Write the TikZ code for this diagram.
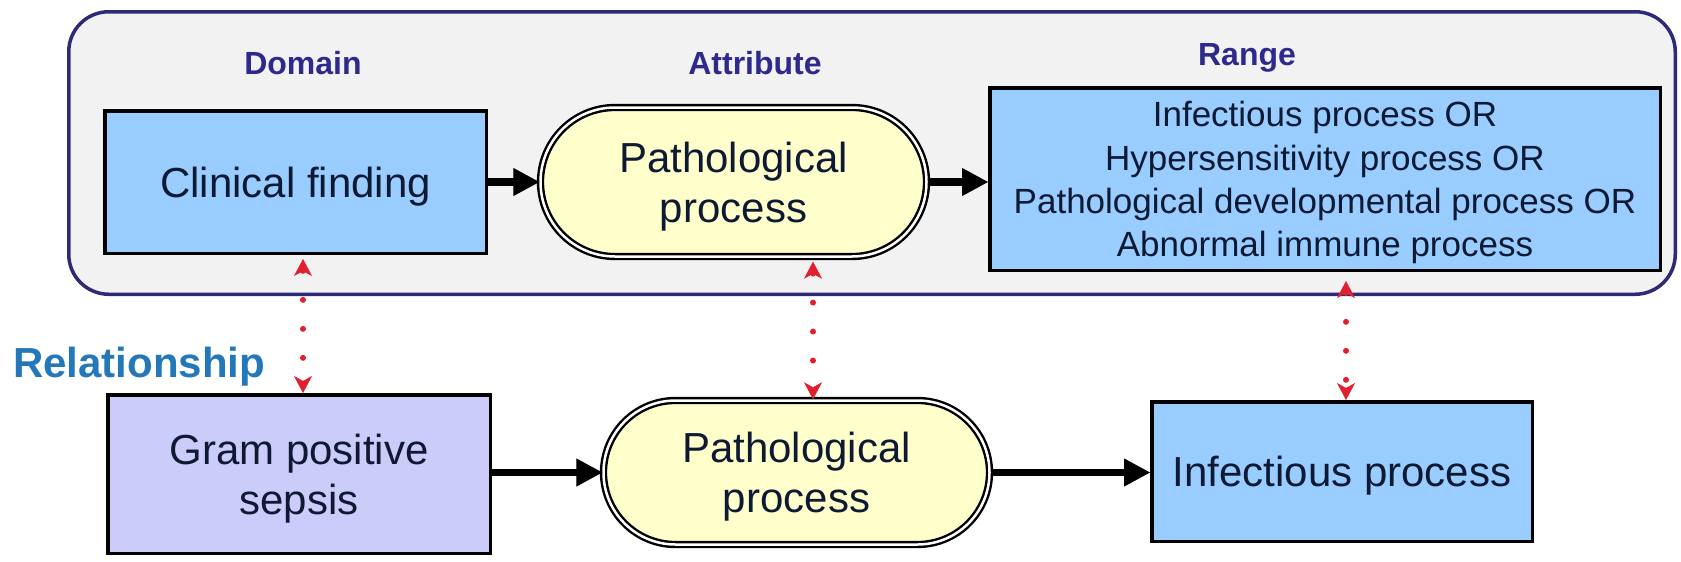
\documentclass[tikz,border=0pt]{standalone}
\usepackage{fontspec}
\setmainfont{Liberation Sans}
\usetikzlibrary{arrows.meta,shapes.misc}
\definecolor{panelfill}{HTML}{F2F2F3}
\definecolor{panelline}{HTML}{2E2A78}
\definecolor{bluebox}{HTML}{99CCFF}
\definecolor{lavbox}{HTML}{CCCCFA}
\definecolor{yellowbox}{HTML}{FFFFCC}
\definecolor{hdrblue}{HTML}{2E2A8C}
\definecolor{relblue}{HTML}{2477B8}
\definecolor{linkred}{HTML}{E0202E}
\definecolor{boxtext}{HTML}{0E1A33}
\begin{document}
\begin{tikzpicture}[x=1pt,y=-1pt,
  panelbox/.style={draw=panelline, line width=3.5pt, fill=panelfill, rounded corners=40pt, inner sep=0pt},
  box/.style={draw=black, line width=3.5pt, inner sep=0pt, align=center, text=boxtext, text depth=0pt, font=\fontsize{42}{50}\selectfont},
  capsule/.style={rounded rectangle, draw=black, line width=2.4pt, double=white, double distance=2.5pt, fill=yellowbox, inner sep=0pt, align=center, text=boxtext, text depth=0pt, font=\fontsize{42}{50}\selectfont, minimum width=386pt},
  hdr/.style={anchor=base, text=hdrblue, inner sep=0pt, font=\fontsize{32}{38}\selectfont\bfseries},
  flow/.style={line width=7.5pt, -{Triangle[length=26pt,width=28pt,line width=1pt]}},
  link/.style={draw=linkred, line width=6pt, dash pattern=on 0pt off 29pt, line cap=round, shorten <=4pt, {Stealth[length=17pt,width=18pt,inset=5pt,line width=0.5pt]}-{Stealth[length=17pt,width=18pt,inset=5pt,line width=0.5pt]}}
]
\fill[white] (0,0) rectangle (1681,562);
\useasboundingbox (0,0) rectangle (1681,562);

\node[panelbox, minimum width=1606.5pt, minimum height=282.5pt] (panel) at (872,153) {};

\node[hdr] (dom) at (303,74) {Domain};
\node[hdr] (att) at (755,74) {Attribute};
\node[hdr] (rngl) at (1247,65) {Range};

\node[box, fill=bluebox, minimum width=381.5pt, minimum height=142.5pt] (clin) at (295.5,182) {Clinical finding};
\node[capsule, minimum height=149pt] (ptop) at (733.5,182) {Pathological\\process};
\node[box, fill=bluebox, minimum width=670.5pt, minimum height=182.5pt, font=\fontsize{35}{43.3}\selectfont] (rng) at (1325,179) {Infectious process OR\\Hypersensitivity process OR\\Pathological developmental process OR\\Abnormal immune process};

\node[anchor=base west, inner sep=0pt, text=relblue, font=\fontsize{42}{50}\selectfont\bfseries] (rel) at (13,377) {Relationship};

\node[box, fill=lavbox, minimum width=382.5pt, minimum height=158.5pt] (gram) at (299,474) {Gram positive\\sepsis};
\node[capsule, minimum height=144pt] (pbot) at (796.5,472.5) {Pathological\\process};
\node[box, fill=bluebox, minimum width=380.5pt, minimum height=139.5pt] (inf) at (1342,471.5) {Infectious process};

\draw[flow] (clin.east) -- (clin.east -| ptop.west);
\draw[flow] (ptop.east) -- (ptop.east -| rng.west);
\draw[flow] (gram.east |- pbot.west) -- (pbot.west);
\draw[flow] (pbot.east) -- (pbot.east -| inf.west);

\draw[link] ([xshift=7.5pt]clin.south) -- ([xshift=4pt]gram.north);
\draw[link] ([xshift=79.5pt]ptop.south) -- ([xshift=16.5pt]pbot.north);
\draw[link, shorten <=9pt] ([xshift=21pt]rng.south) -- ([xshift=4pt]inf.north);
\end{tikzpicture}
\end{document}
